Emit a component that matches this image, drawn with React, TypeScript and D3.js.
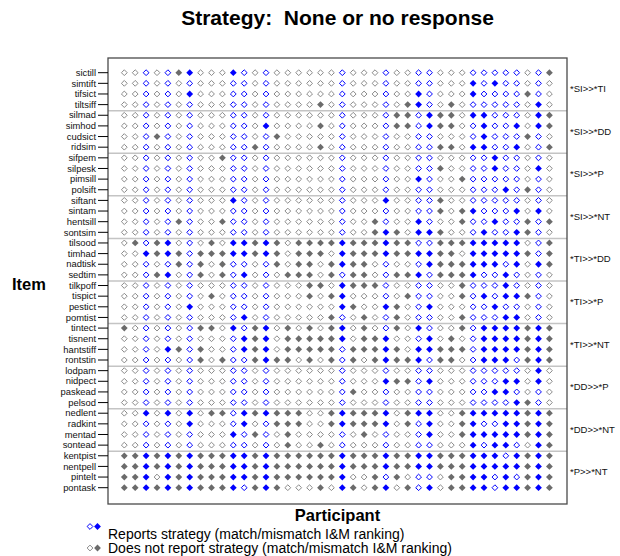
import React from "react";
import * as d3 from "d3";

const items = ["sictill","simtift","tifsict","tiltsiff","silmad","simhod","cudsict","ridsim","sifpem","silpesk","pimsill","polsift","siftant","sintam","hentsill","sontsim","tilsood","timhad","nadtisk","sedtim","tilkpoff","tispict","pestict","pomtist","tintect","tisnent","hantstiff","rontstin","lodpam","nidpect","paskead","pelsod","nedlent","radkint","mentad","sontead","kentpist","nentpell","pintelt","pontask"];

const groups = ["*SI>>*TI","*SI>>*DD","*SI>>*P","*SI>>*NT","*TI>>*DD","*TI>>*P","*TI>>*NT","*DD>>*P","*DD>>*NT","*P>>*NT"];

const participants = ["P1","P2","P3","P4","P5","P6","P7","P8","P9","P10","P11","P12","P13","P14","P15","P16","P17","P18","P19","P20","P21","P22","P23","P24","P25","P26","P27","P28","P29","P30","P31","P32","P33","P34","P35","P36","P37","P38","P39","P40"];

// participants (column indices) who report the strategy
const reporters = [2,4,6,10,11,13,20,24,27,28,32,33,34,35,36,38];

// per item: column indices where the I&M ranking matches (filled marker)
const matched: number[][] = [
  [5,6,10,39],
  [32,34],
  [6,27,32,37],
  [18,26,27,30,38],
  [25,26,28,29,30,32,33,38,39],
  [13,18,25,26,28,29,30,33,36,38,39],
  [3,14,33,37],
  [12,18,29,30,32,33,36,39],
  [9,34],
  [29,34,38],
  [27,31],
  [35,37],
  [10,24,29],
  [29,31,32,36,38],
  [5,9,23,27,31,34,37,39],
  [23,24,25,27,28,29,33,36,37],
  [1,3,4,8,10,11,12,13,14,16,17,18,19,20,21,22,23,24,25,26,29,30,31,32,33,34,35,36,39],
  [2,3,4,5,7,8,9,10,11,12,13,14,16,17,18,20,21,22,23,24,25,26,27,28,29,30,32,33,34,35,36,37,39],
  [5,7,9,14,16,17,19,20,21,22,28,29,30,31,32,33,34,36,38,39],
  [3,4,7,9,11,15,16,17,19,21,22,25,26,27,29,30,31,32,35],
  [17,18,20,21,22,23,31,35],
  [8,17,19,20,26,31,33,35,36,37],
  [6,20,21,24,25,28,34],
  [11,19,22,25,31,35,36],
  [0,7,8,10,12,13,15,17,19,20,22,25,27,31,33,34,35,36,37,38,39],
  [11,12,13,15,16,17,18,19,20,22,23,24,28,30,33,34,35,36,37,38,39],
  [4,5,7,11,12,13,15,16,17,18,19,21,22,23,24,25,27,28,29,30,31,33,34,35,36,37,38,39],
  [7,9,12,13,14,15,17,19,21,23,24,25,26,27,29,30,33,34,35,37,38,39],
  [38],
  [24,25,26,28,35,36,38],
  [21,34,35],
  [36,37],
  [2,4,6,8,9,11,12,13,14,15,16,19,20,21,22,23,24,26,27,28,31,32,33,34,35,36,37,38,39],
  [6,11,14,15,16,19,20,21,22,23,24,26,28,31,32,35,36,37,38,39],
  [10,12,15,22,28,31,32,33,34,35,36,37,38,39],
  [15,18,32,34,35,38,39],
  [0,1,2,3,4,5,6,7,8,9,10,11,12,13,14,15,16,17,18,19,20,21,22,23,24,25,26,27,28,29,30,31,32,33,34,36,37,38,39],
  [0,1,2,3,4,5,6,7,8,9,10,11,12,13,14,15,16,17,18,19,20,21,22,23,24,25,26,27,28,29,30,31,32,33,34,35,36,37,38,39],
  [0,1,2,4,5,6,7,8,9,10,11,12,13,14,15,16,17,18,19,20,23,25,30,31,32,33,35,37,38,39],
  [0,1,2,3,4,5,6,7,8,9,10,12,13,14,18,20,21,23,24,26,28,30,31,32,33,35,36,37,38,39],
];

const legendLabels = [
  "Reports strategy (match/mismatch I&M ranking)",
  "Does not report strategy (match/mismatch I&M ranking)",
];

const BLUE = "#0000ff";
const GRAY_FILL = "#6b6b6b";
const GRAY_OPEN = "#8a8a8a";
const FONT = "'Liberation Sans', Arial, sans-serif";
const R_OPEN = 2.9;
const R_FILL = 3.4;

const diamond = (r: number) => `M0,${-r}L${r},0L0,${r}L${-r},0Z`;

function Marker({ x, y, report, match }: { x: number; y: number; report: boolean; match: boolean }) {
  const color = report ? BLUE : match ? GRAY_FILL : GRAY_OPEN;
  return match ? (
    <path d={diamond(R_FILL)} transform={`translate(${x},${y})`} fill={color} stroke="none" />
  ) : (
    <path d={diamond(R_OPEN)} transform={`translate(${x},${y})`} fill="white" stroke={color} strokeWidth={1} />
  );
}

export default function App() {
  const W = 620, H = 556;
  const frame = { left: 108, right: 567, top: 58, bottom: 504 };
  const x = d3.scalePoint<string>().domain(participants).range([124.3, 549.4]);
  const y = d3.scalePoint<string>().domain(items).range([72.7, 487.7]);
  const step = y.step();
  const perGroup = items.length / groups.length;

  const cells: JSX.Element[] = [];
  items.forEach((it, r) => {
    const m = new Set(matched[r]);
    participants.forEach((p, c) => {
      cells.push(
        <Marker key={`${r}-${c}`} x={x(p)!} y={y(it)!} report={reporters.includes(c)} match={m.has(c)} />
      );
    });
  });

  return (
    <svg width={W} height={H} style={{ position: "absolute", left: 0, top: 0, background: "white" }} fontFamily={FONT}>
      <rect width={W} height={H} fill="white" />
      <text x={337.5} y={25} textAnchor="middle" fontSize={21} fontWeight="bold" style={{ whiteSpace: "pre" }}>Strategy:  None or no response</text>

      {/* group separators */}
      {groups.slice(1).map((g, i) => {
        const yy = y(items[(i + 1) * perGroup])! - step / 2 + 0.8;
        return <line key={g} x1={frame.left} x2={frame.right} y1={yy} y2={yy} stroke="#c4c4c4" strokeWidth={1.5} />;
      })}

      {cells}

      {/* frame */}
      <rect x={frame.left} y={frame.top} width={frame.right - frame.left} height={frame.bottom - frame.top} fill="none" stroke="#4a4a4a" strokeWidth={1.3} />

      {/* left axis ticks and labels */}
      {items.map((it) => (
        <g key={it}>
          <line x1={98} x2={frame.left} y1={y(it)!} y2={y(it)!} stroke="#000" strokeWidth={1} />
          <text x={96} y={y(it)! + 3.2} textAnchor="end" fontSize={9.4} fill="#111">{it}</text>
        </g>
      ))}

      {/* right group labels */}
      {groups.map((g, i) => {
        const yy = (y(items[i * perGroup])! + y(items[i * perGroup + perGroup - 1])!) / 2;
        return <text key={g} x={570} y={yy + 3.5} fontSize={9.5} fill="#111">{g}</text>;
      })}

      <text x={29} y={290} textAnchor="middle" fontSize={16.5} fontWeight="bold">Item</text>
      <text x={337.5} y={521} textAnchor="middle" fontSize={16.5} fontWeight="bold">Participant</text>

      {/* legend */}
      <path d={diamond(R_OPEN)} transform="translate(90,526.5)" fill="white" stroke={BLUE} strokeWidth={1} />
      <path d={diamond(R_FILL)} transform="translate(97.5,526.5)" fill={BLUE} />
      <text x={108} y={538.5} fontSize={14}>{legendLabels[0]}</text>
      <path d={diamond(R_OPEN)} transform="translate(90,548)" fill="white" stroke={GRAY_OPEN} strokeWidth={1} />
      <path d={diamond(R_FILL)} transform="translate(97.5,548)" fill={GRAY_FILL} />
      <text x={108} y={553} fontSize={14}>{legendLabels[1]}</text>
    </svg>
  );
}
